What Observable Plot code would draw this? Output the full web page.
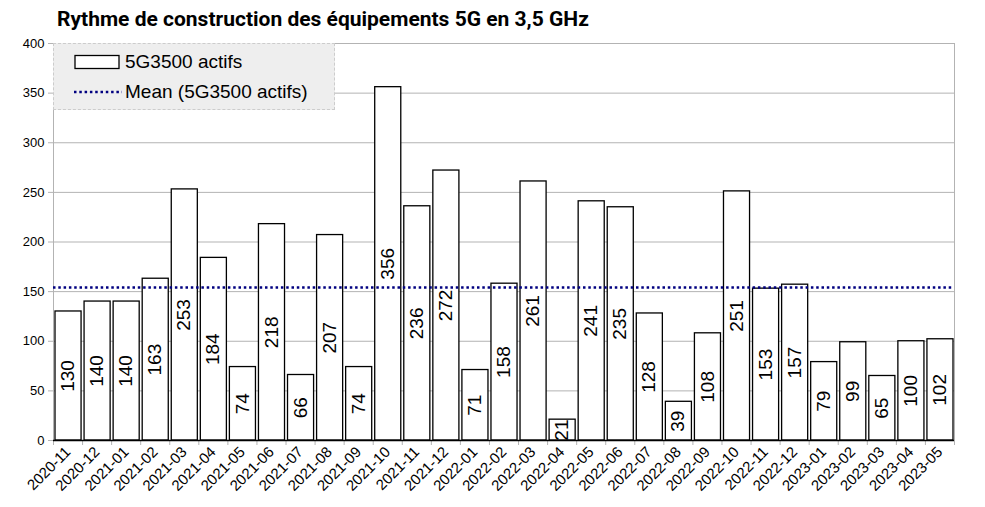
<!DOCTYPE html>
<html>
<head>
<meta charset="utf-8">
<script src="https://cdn.jsdelivr.net/npm/d3@7"></script>
<script src="https://cdn.jsdelivr.net/npm/@observablehq/plot@0.6"></script>
<style>
  body { margin: 0; background: #fff; }
  #wrap { position: relative; width: 985px; height: 507px; font-family: "Liberation Sans", Arial, sans-serif; }
  #title { position: absolute; left: 57px; top: 7px; font-family: Roboto, sans-serif; font-weight: bold; font-size: 21px; color: #000; white-space: nowrap; }
  #chart { position: absolute; left: 0; top: 36px; }
  #legend { position: absolute; left: 53px; top: 43px; width: 282px; height: 67px; box-sizing: border-box;
            background: #eeeeee; border: 1px dashed #cccccc; font-size: 19px; color: #000; }
  .row { position: absolute; left: 20px; display: flex; align-items: center; height: 24px; }
  .row svg { margin-right: 3px; }
</style>
</head>
<body>
<div id="wrap">
  <div id="title">Rythme de construction des équipements 5G en 3,5 GHz</div>
  <div id="chart"></div>
  <div id="legend">
    <div class="row" style="top:6px"><svg width="48" height="16"><rect x="1" y="1.5" width="44" height="13" fill="#fff" stroke="#000" stroke-width="1.3"/></svg><span id="lg1"></span></div>
    <div class="row" style="top:36px"><svg width="48" height="16"><line x1="0" y1="8" x2="48" y2="8" stroke="#000080" stroke-width="2.5" stroke-dasharray="2.5 2.8"/></svg><span id="lg2"></span></div>
  </div>
</div>
<script>
const months = ["2020-11","2020-12","2021-01","2021-02","2021-03","2021-04","2021-05","2021-06","2021-07","2021-08","2021-09","2021-10","2021-11","2021-12","2022-01","2022-02","2022-03","2022-04","2022-05","2022-06","2022-07","2022-08","2022-09","2022-10","2022-11","2022-12","2023-01","2023-02","2023-03","2023-04","2023-05"];
const actifs = [130,140,140,163,253,184,74,218,66,207,74,356,236,272,71,158,261,21,241,235,128,39,108,251,153,157,79,99,65,100,102];
const yTicks = [0,50,100,150,200,250,300,350,400];
const seriesName = "5G3500 actifs";
const meanName = "Mean (5G3500 actifs)";

document.getElementById("lg1").textContent = seriesName;
document.getElementById("lg2").textContent = meanName;

const data = months.map((m, i) => ({month: m, i, v: actifs[i]}));
const mean = d3.mean(actifs);
const boundaries = d3.range(months.length + 1);
const centers = months.map((_, i) => i + 0.5);

const chart = Plot.plot({
  width: 985,
  height: 471,
  marginTop: 7,
  marginBottom: 67,
  marginLeft: 53,
  marginRight: 31,
  style: {fontFamily: "'Liberation Sans', Arial, sans-serif", fontSize: "13px", background: "transparent", overflow: "visible"},
  x: {type: "linear", domain: [0, months.length], axis: null},
  y: {domain: [0, 400], axis: null},
  marks: [
    Plot.gridY(yTicks, {stroke: "#b3b3b3", strokeOpacity: 1}),
    Plot.ruleX([0, months.length], {stroke: "#b3b3b3"}),
    Plot.axisY(yTicks, {tickSize: 5, tickPadding: 4, stroke: "#b3b3b3", fill: "#000", fontSize: 13, label: null}),
    Plot.axisX(boundaries, {tickSize: 5, stroke: "#b3b3b3", tickFormat: () => "", label: null}),
    Plot.axisX(centers, {tickSize: 0, tickPadding: 9, tickRotate: -45, fill: "#000", fontSize: 15, label: null,
      tickFormat: d => months[Math.floor(d)]}),
    Plot.rectY(data, {x1: "i", x2: d => d.i + 1, y: "v", fill: "#fff", stroke: "#000", strokeWidth: 1.3, insetLeft: 2, insetRight: 1}),
    Plot.ruleY([0], {stroke: "#000", strokeWidth: 1.3}),
    Plot.ruleY([mean], {stroke: "#000080", strokeWidth: 2.5, strokeDasharray: "2.5 2.8"}),
    Plot.text(data, {x: d => d.i + 0.5, y: d => d.v / 2, text: d => String(d.v), rotate: -90, fontSize: 19, fill: "#000"})
  ]
});
document.getElementById("chart").appendChild(chart);
</script>
</body>
</html>
